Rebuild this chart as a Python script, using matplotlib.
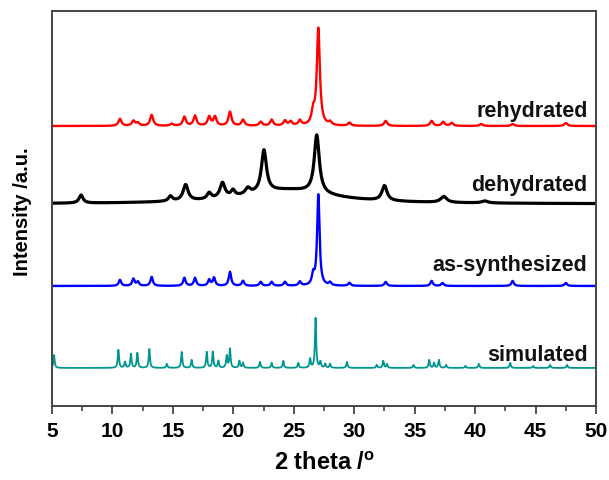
import numpy as np
import matplotlib.pyplot as plt

# -------------------------------------------------------
# Peak lists (2theta, height in a.u.)
# -------------------------------------------------------

rehyd_pos = [10.62, 11.73, 12.1, 13.24, 14.9, 15.95, 16.83, 18.0, 18.48, 19.72, 20.8,
             22.26, 23.17, 24.27, 24.74, 25.5, 26.6, 27.03, 28.0, 29.6, 32.6, 36.4,
             37.36, 38.06, 40.5, 43.1, 47.5]
rehyd_int = [7, 5, 3, 11, 2, 9, 10, 9, 9, 14, 6,
             4, 6, 5, 4, 5, 12, 97, 3, 3, 5, 5,
             4, 3, 2, 2, 3]

dehyd_pos = [7.4, 14.8, 16.05, 18.0, 19.1, 19.97, 21.2, 22.53, 24.5, 26.9, 32.5, 37.4, 40.8]
dehyd_int = [8, 5, 16, 6, 15, 6, 6, 42, 14, 58, 15, 6, 2]
dehyd_wid = [0.2, 0.2, 0.25, 0.2, 0.25, 0.2, 0.25, 0.25, 4.5, 0.25, 0.25, 0.3, 0.3]

assyn_pos = [10.62, 11.73, 12.1, 13.24, 15.95, 16.83, 18.0, 18.4, 19.72, 20.8,
             22.26, 23.17, 24.27, 25.5, 26.6, 27.03, 28.0, 29.6, 32.6, 36.4, 37.3, 43.1, 47.5]
assyn_int = [6, 7, 4, 9, 8, 8, 6, 8, 14, 5,
             4, 4, 4, 4, 10, 91, 3, 3, 4, 5, 3, 5, 3]

sim_pos = [5.17, 10.49, 11.04, 11.53, 12.06, 13.05, 14.5, 15.73, 16.55, 17.8, 18.3,
           18.76, 19.45, 19.72, 20.5, 20.8, 22.2, 23.17, 24.13, 25.37, 26.35, 26.8,
           27.2, 27.6, 28.0, 29.4, 31.86, 32.4, 32.7, 34.9, 36.2, 36.6, 37.0, 37.6,
           39.2, 40.3, 42.9, 44.8, 46.2, 47.6]
sim_int = [13, 18, 6, 14, 15, 19, 4, 16, 8, 16, 16,
           7, 12, 19, 7, 5, 6, 5, 7, 5, 9, 50,
           6, 4, 4, 6, 3, 7, 4, 3, 8, 5, 8, 3,
           2, 4, 5, 2, 3, 3]

labels = ["rehydrated", "dehydrated", "as-synthesized", "simulated"]
offsets = [280, 202, 120, 38]
label_y = [296, 221, 141, 51]
colors = ["#ff0000", "#000000", "#0000ff", "#00968f"]

x = np.linspace(5, 50, 4000)


def pattern(pos, inten, wid):
    y = np.zeros_like(x)
    for p, h, w in zip(pos, inten, wid):
        y += h / (1 + ((x - p) / w) ** 2)
    return y


curves = [
    pattern(rehyd_pos, rehyd_int, [0.15] * len(rehyd_pos)),
    pattern(dehyd_pos, dehyd_int, dehyd_wid),
    pattern(assyn_pos, assyn_int, [0.12] * len(assyn_pos)),
    pattern(sim_pos, sim_int, [0.06] * len(sim_pos)),
]
widths = [1.7, 2.3, 1.7, 1.3]

# -------------------------------------------------------
# Graphique
# -------------------------------------------------------

fig = plt.figure(figsize=(6.09, 4.81), dpi=100)
ax = fig.add_axes([0.0854, 0.154, 0.8933, 0.821])

for y, off, ly, c, lw, lab in zip(curves, offsets, label_y, colors, widths, labels):
    ax.plot(x, y + off, color=c, lw=lw)
    ax.text(49.3, ly, lab, ha="right", va="center", fontsize=15.5,
            fontweight="bold", family="Liberation Sans", color="#111111")

ax.set_xlim(5, 50)
ax.set_ylim(0, 395)
ax.set_xticks(np.arange(5, 51, 5))
ax.set_xticks(np.arange(7.5, 50, 5), minor=True)
ax.set_yticks([])

ax.tick_params(axis="x", which="major", direction="out", length=6, width=1.3,
               labelsize=15, color="#444444", pad=5)
ax.tick_params(axis="x", which="minor", direction="out", length=3.5, width=1.2,
               color="#444444")
for lbl in ax.get_xticklabels():
    lbl.set_fontweight("bold")
    lbl.set_family("Liberation Sans")

for s in ax.spines.values():
    s.set_color("#444444")
    s.set_linewidth(1.4)

ax.set_xlabel("2 theta /$^{\\mathregular{o}}$", fontsize=17, fontweight="bold",
              family="Liberation Sans", labelpad=8)
ax.set_ylabel("Intensity /a.u.", fontsize=14.5, fontweight="bold",
              family="Liberation Sans")
ax.yaxis.set_label_coords(-0.037, 0.494)

plt.savefig("out.png", dpi=100)
